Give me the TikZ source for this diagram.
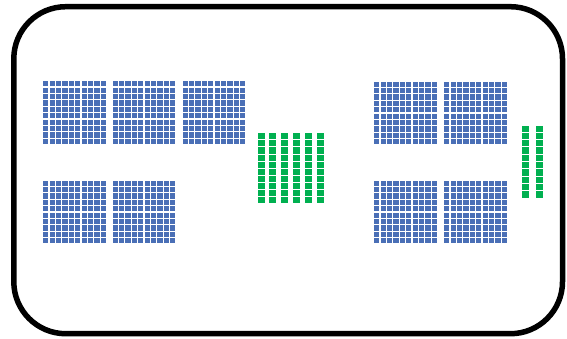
\documentclass[tikz,border=0pt]{standalone}
\usepackage{tikz}
\definecolor{PanelBlue}{RGB}{74,111,182}
\definecolor{CellGreen}{RGB}{0,176,80}

\begin{document}
\begin{tikzpicture}[x=1pt,y=-1pt,
    bluecell/.style={fill=PanelBlue},
    greencell/.style={fill=CellGreen}]
\useasboundingbox (0,0) rectangle (567,338);
\draw[line width=5.5pt,rounded corners=52pt] (13.8,6.7) rectangle (562.5,333.7);
% blue panels, 10 x 10 cells
\foreach \px/\py in {42.5/80.5,112/80.5,182/80.5,42.5/180,112/180,
    373.5/81,443.5/81,373.5/180,443.5/180}{
  \foreach \i in {0,...,9}{
    \foreach \j in {0,...,9}{
      \fill[bluecell] (\px+\i*6.4+0.6,\py+\j*6.4+0.6) rectangle ++(5.2,5.2);
    }
  }
}
% green strips
\foreach \c in {0,...,5}{
  \foreach \r in {0,...,9}{
    \fill[greencell] (257.5+\c*11.85,133.2+\r*7.13) rectangle ++(7,6.1);
  }
}
\foreach \c in {0,1}{
  \foreach \r in {0,...,9}{
    \fill[greencell] (521.7+\c*14,125.5+\r*7.33) rectangle ++(7.5,6.3);
  }
}
\end{tikzpicture}
\end{document}
